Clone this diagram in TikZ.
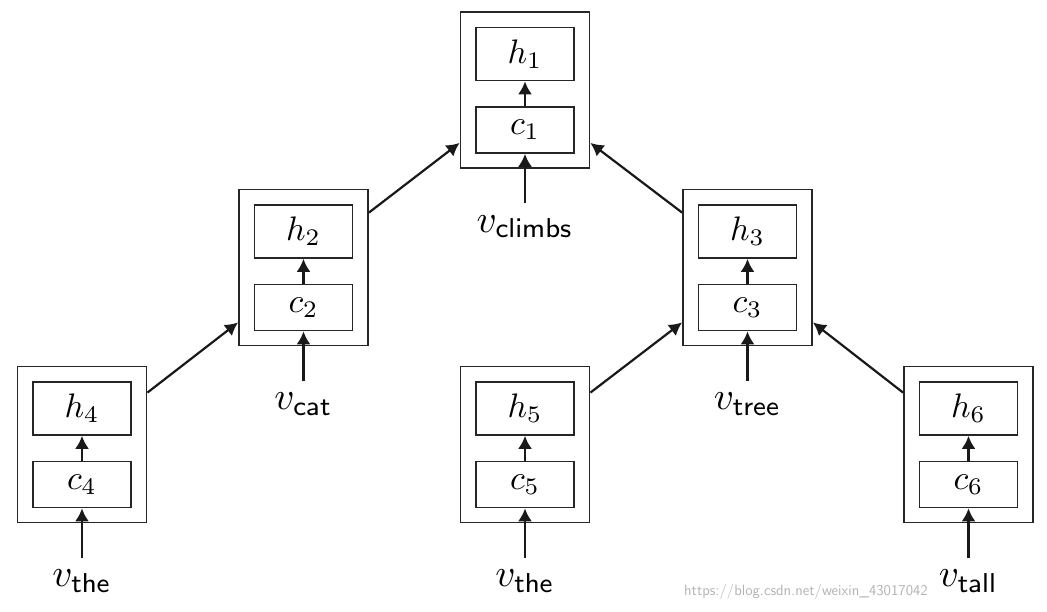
\documentclass[tikz,border=0pt]{standalone}
\usepackage{graphicx}
\usetikzlibrary{arrows.meta,calc}
\newcommand\cellmath[1]{\scalebox{3.4}{$#1$}}
\newcommand\inmath[1]{\scalebox{3.9}{$#1$}}
\begin{document}
\begin{tikzpicture}[x=1pt,y=-1pt,
  boxline/.style={draw=black!85, line width=1.8pt, inner sep=0pt},
  outerbox/.style={boxline, minimum width=129pt, minimum height=156pt},
  hbox/.style={boxline, minimum width=98pt, minimum height=53pt},
  cbox/.style={boxline, minimum width=98pt, minimum height=46pt},
  lab/.style={anchor=base, inner sep=0pt},
  arr/.style={draw=black!90, line width=2.2pt, -{Latex[length=13pt,width=14pt]}},
  wm/.style={text=black!30, font=\sffamily\fontsize{15}{18}\selectfont, inner sep=0pt}]
\useasboundingbox (0,0) rectangle (1047,611);
\foreach \n/\x/\y/\w in {1/525/90/climbs, 2/303.5/267.5/cat, 3/747.5/267.5/tree, 4/82/444.5/the, 5/525/444.5/the, 6/968.5/444.5/tall} {
  \node[outerbox] (o\n) at (\x,\y) {};
  \node[hbox] (h\n) at (\x,\y-36) {\cellmath{h_{\n}}};
  \node[cbox] (c\n) at (\x,\y+40) {\cellmath{c_{\n}}};
  \coordinate (s\n) at (\x,\y+113);
  \node[lab] (v\n) at (\x,\y+142) {\inmath{v_{\mathsf{\w}}}};
  \draw[arr] (c\n.north) -- (h\n.south);
  \draw[arr] (s\n) -- (c\n.south);
}
\draw[arr] ([yshift=-27pt]o4.north east) -- ([yshift=24pt]o2.south west);
\draw[arr] ([yshift=-24pt]o2.north east) -- ([yshift=26pt]o1.south west);
\draw[arr] ([yshift=-24pt]o3.north west) -- ([yshift=26pt]o1.south east);
\draw[arr] ([yshift=-27pt]o5.north east) -- ([yshift=24pt]o3.south west);
\draw[arr] ([yshift=-27pt]o6.north west) -- ([yshift=24pt]o3.south east);
\node[wm, anchor=east] (wmark) at (928,592) {https://blog.csdn.net/weixin\_43017042};
\end{tikzpicture}
\end{document}
